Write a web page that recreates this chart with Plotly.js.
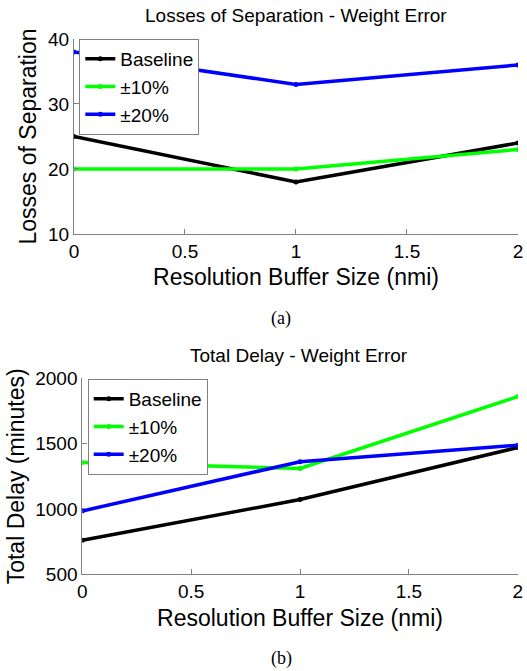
<!DOCTYPE html>
<html>
<head>
<meta charset="utf-8">
<script src="https://cdn.plot.ly/plotly-3.0.1.min.js"></script>
<style>html,body{margin:0;padding:0;background:#fff;}#chart{width:527px;height:671px;}</style>
</head>
<body>
<div id="chart"></div>
<script>
const bufferSizes = [0, 1, 2];
const seriesNames = ['Baseline', '\u00b110%', '\u00b120%'];
const seriesColors = ['#000000', '#00ff00', '#0000ff'];
const lossBaseline = [25, 18, 24];
const loss10 = [20, 20, 23];
const loss20 = [38, 33, 36];
const delayBaseline = [760, 1072, 1470];
const delay10 = [1355, 1310, 1860];
const delay20 = [985, 1362, 1488];
const xTickVals = [0, 0.5, 1, 1.5, 2];
const xTickText = ['0', '0.5', '1', '1.5', '2'];
const lossTicks = [10, 20, 30, 40];
const delayTicks = [500, 1000, 1500, 2000];

const FONT = 'Liberation Sans, Arial, Helvetica, sans-serif';

function mk(y, i, xa, ya, leg) {
  return {
    x: bufferSizes, y: y, name: seriesNames[i], type: 'scatter', mode: 'lines+markers',
    line: {color: seriesColors[i], width: 3.5}, marker: {color: seriesColors[i], size: 5},
    xaxis: xa, yaxis: ya, legend: leg
  };
}
const data = [
  mk(lossBaseline, 0, 'x', 'y', 'legend'),
  mk(loss10, 1, 'x', 'y', 'legend'),
  mk(loss20, 2, 'x', 'y', 'legend'),
  mk(delayBaseline, 0, 'x2', 'y2', 'legend2'),
  mk(delay10, 1, 'x2', 'y2', 'legend2'),
  mk(delay20, 2, 'x2', 'y2', 'legend2')
];

const axBase = {
  showgrid: false, zeroline: false, showline: true, linecolor: '#808080', linewidth: 1,
  ticks: 'inside', ticklen: 5, tickcolor: '#808080', tickwidth: 1,
  tickfont: {family: FONT, size: 19, color: '#000'}, automargin: false
};
function xax(domain, anchor) {
  return Object.assign({}, axBase, {
    domain: domain, anchor: anchor, range: [0, 2], tickmode: 'array', tickvals: xTickVals, ticktext: xTickText,
    title: {text: 'Resolution Buffer Size (nmi)', font: {family: FONT, size: 23, color: '#000'}, standoff: 8}
  });
}
function yax(domain, anchor, range, ticks, title) {
  return Object.assign({}, axBase, {
    domain: domain, anchor: anchor, range: range, tickmode: 'array', tickvals: ticks,
    title: {text: title, font: {family: FONT, size: 23, color: '#000'}, standoff: 4}
  });
}
const legBase = {
  bgcolor: '#ffffff', bordercolor: '#808080', borderwidth: 1,
  font: {family: FONT, size: 19, color: '#000'}, xanchor: 'left', yanchor: 'top',
  tracegroupgap: 0, itemwidth: 30
};
const layout = {
  width: 527, height: 671, margin: {l: 0, r: 0, t: 0, b: 0},
  paper_bgcolor: '#fff', plot_bgcolor: '#fff', showlegend: true,
  xaxis: xax([0.1404, 0.9829], 'y'),
  yaxis: yax([0.6513, 0.9419], 'x', [10, 40], lossTicks, 'Losses of Separation'),
  xaxis2: xax([0.1562, 0.9824], 'y2'),
  yaxis2: yax([0.1441, 0.4362], 'x2', [500, 2000], delayTicks, 'Total Delay (minutes)'),
  legend: Object.assign({}, legBase, {x: 0.1505, y: 1 - 39 / 671}),
  legend2: Object.assign({}, legBase, {x: 0.1664, y: 1 - 379 / 671}),
  annotations: [
    {text: 'Losses of Separation - Weight Error', xref: 'paper', yref: 'paper', x: 0.5617, y: 1 - 16 / 671,
     xanchor: 'center', yanchor: 'middle', showarrow: false, font: {family: FONT, size: 19, color: '#000'}},
    {text: 'Total Delay - Weight Error', xref: 'paper', yref: 'paper', x: 0.5674, y: 1 - 355 / 671,
     xanchor: 'center', yanchor: 'middle', showarrow: false, font: {family: FONT, size: 19, color: '#000'}},
    {text: '(a)', xref: 'paper', yref: 'paper', x: 281 / 527, y: 1 - 318 / 671,
     xanchor: 'center', yanchor: 'middle', showarrow: false, font: {family: 'Liberation Serif, Times New Roman, serif', size: 18, color: '#000'}},
    {text: '(b)', xref: 'paper', yref: 'paper', x: 281 / 527, y: 1 - 658 / 671,
     xanchor: 'center', yanchor: 'middle', showarrow: false, font: {family: 'Liberation Serif, Times New Roman, serif', size: 18, color: '#000'}}
  ]
};
Plotly.newPlot('chart', data, layout, {displayModeBar: false, staticPlot: true});
</script>
</body>
</html>
